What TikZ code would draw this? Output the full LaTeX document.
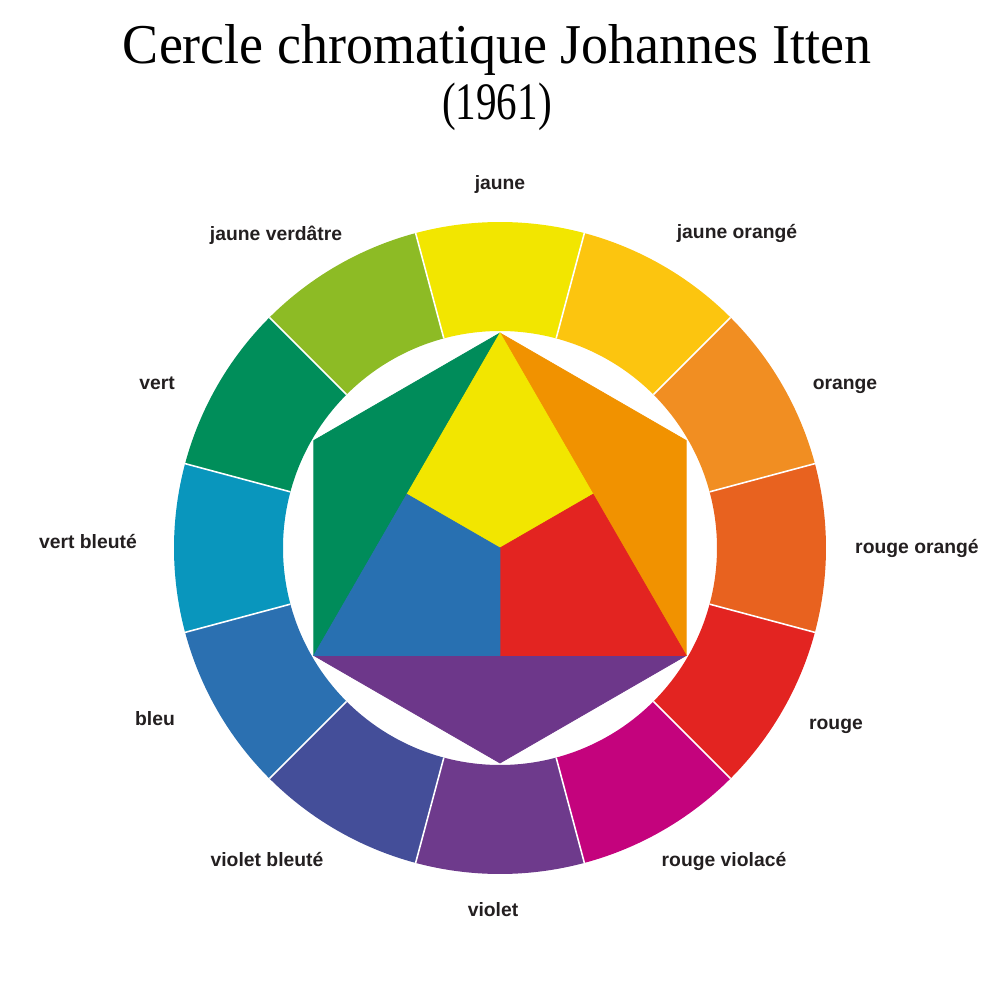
\documentclass[tikz,border=0pt]{standalone}
\usepackage{fontspec}
\setmainfont{Liberation Serif}
\setsansfont{Liberation Sans}
\usetikzlibrary{calc}

\definecolor{cJaune}{HTML}{F2E600}
\definecolor{cJauneOrange}{HTML}{FCC50F}
\definecolor{cOrange}{HTML}{F18E22}
\definecolor{cRougeOrange}{HTML}{E8621F}
\definecolor{cRouge}{HTML}{E32421}
\definecolor{cRougeViolace}{HTML}{C4037D}
\definecolor{cViolet}{HTML}{6E3A8C}
\definecolor{cVioletBleu}{HTML}{444E99}
\definecolor{cBleu}{HTML}{2B70B1}
\definecolor{cVertBleu}{HTML}{0996BD}
\definecolor{cVert}{HTML}{008E5A}
\definecolor{cJauneVert}{HTML}{8DBB25}
\definecolor{cOrangeC}{HTML}{F19200}
\definecolor{cVertC}{HTML}{008C5A}
\definecolor{cVioletC}{HTML}{6D378A}
\definecolor{cBleuC}{HTML}{2870B1}
\definecolor{cTexte}{HTML}{231F20}

\tikzset{
    etiquette/.style={font=\sffamily\bfseries\fontsize{5.5}{6.6}\selectfont, text=cTexte, anchor=base, inner sep=0pt},
    titre/.style={font=\fontsize{16}{19}\selectfont, anchor=base, inner sep=0pt, xscale=0.96, transform shape},
    annee/.style={font=\fontsize{15}{18}\selectfont, anchor=base, inner sep=0pt, xscale=0.78, transform shape},
    separation/.style={draw=white, line width=0.45pt},
    piece/.style={fill=#1, draw=#1, line width=0.2pt, line join=round}
}

\begin{document}
\begin{tikzpicture}[x=0.1mm, y=0.1mm]
    \useasboundingbox (-500,-452) rectangle (500,548);
    % anneau des douze couleurs
    \foreach \a/\c in {90/cJaune, 60/cJauneOrange, 30/cOrange, 0/cRougeOrange, -30/cRouge, -60/cRougeViolace,
                       -90/cViolet, -120/cVioletBleu, -150/cBleu, 180/cVertBleu, 150/cVert, 120/cJauneVert}
        \fill[\c] (\a-15:217) -- (\a-15:326) arc[start angle=\a-15, end angle=\a+15, radius=326]
                  -- (\a+15:217) arc[start angle=\a+15, end angle=\a-15, radius=217] -- cycle;
    \foreach \a in {15,45,...,345}
        \draw[separation] (\a:217) -- (\a:326);
    % hexagone et triangle
    \path   coordinate (T) at (90:215)
            coordinate (HD) at (30:215)
            coordinate (BD) at (-30:215)
            coordinate (B) at (-90:215)
            coordinate (BG) at (-150:215)
            coordinate (HG) at (150:215)
            coordinate (O) at (0,0);
    \path   coordinate (MG) at ($(T)!0.5!(BG)$)
            coordinate (MD) at ($(T)!0.5!(BD)$)
            coordinate (MB) at ($(BG)!0.5!(BD)$);
    \filldraw[piece=cVertC] (T) -- (HG) -- (BG) -- cycle;
    \filldraw[piece=cOrangeC] (T) -- (HD) -- (BD) -- cycle;
    \filldraw[piece=cVioletC] (BG) -- (B) -- (BD) -- cycle;
    \filldraw[piece=cJaune] (T) -- (MG) -- (O) -- (MD) -- cycle;
    \filldraw[piece=cRouge] (O) -- (MD) -- (BD) -- (MB) -- cycle;
    \filldraw[piece=cBleuC] (O) -- (MG) -- (BG) -- (MB) -- cycle;
    % noms
    \path   node[etiquette] (jaune) at (0, 359) {jaune}
            node[etiquette] (jauneorange) at (237, 309) {jaune orangé}
            node[etiquette] (orange) at (345, 159) {orange}
            node[etiquette] (rougeorange) at (417, -5) {rouge orangé}
            node[etiquette] (rouge) at (336, -181) {rouge}
            node[etiquette] (rougeviolace) at (224, -318) {rouge violacé}
            node[etiquette] (violet) at (-7, -368) {violet}
            node[etiquette] (violetbleute) at (-233, -318) {violet bleuté}
            node[etiquette] (bleu) at (-345, -177) {bleu}
            node[etiquette] (vertbleute) at (-412, -1) {vert bleuté}
            node[etiquette] (vert) at (-343, 159) {vert}
            node[etiquette] (jaunevert) at (-224, 308) {jaune verdâtre};
    \node[titre] (titre) at (-3, 484.5) {Cercle chromatique Johannes Itten};
    \node[annee] (annee) at (-3, 428) {(1961)};
\end{tikzpicture}
\end{document}
